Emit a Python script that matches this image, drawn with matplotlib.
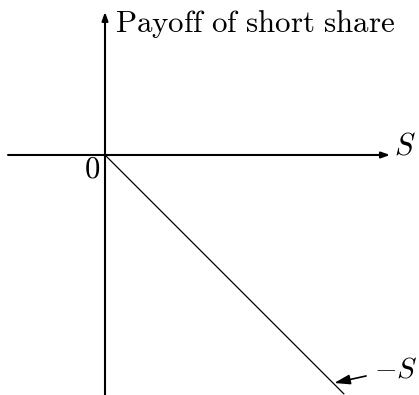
import numpy as np
import matplotlib.pyplot as plt

plt.rcParams['mathtext.fontset'] = 'cm'

# Daten: Auszahlung einer Short-Position
S = np.array([0.0, 9.95])
payoff = -S

x_axis = [-4.04, 11.875]
y_axis = [-10.0, 5.96]

fig = plt.figure(figsize=(4.19, 3.95), dpi=100)
ax = fig.add_axes([0, 0, 1, 1])
ax.set_xlim(-4.375, 13.083)
ax.set_ylim(-10.0, 6.458)
ax.axis('off')

# Achsen mit Pfeilen
ax.annotate('', xy=(x_axis[1], 0), xytext=(x_axis[0], 0),
            arrowprops=dict(arrowstyle='-|>,head_length=0.5,head_width=0.18',
                            lw=1.5, color='black', shrinkA=0, shrinkB=0))
ax.annotate('', xy=(0, y_axis[1]), xytext=(0, y_axis[0]),
            arrowprops=dict(arrowstyle='-|>,head_length=0.5,head_width=0.18',
                            lw=1.5, color='black', shrinkA=0, shrinkB=0))

ax.plot(S, payoff, color='black', lw=0.9, clip_on=False)

ax.text(0.42, 5.125, r'$\mathrm{Payoff\ of\ short\ share}$', fontsize=22.3,
        ha='left', va='baseline')
ax.text(12.05, 0.02, r'$S$', fontsize=22, ha='left', va='baseline')
ax.text(-0.21, -0.92, r'$0$', fontsize=22, ha='right', va='baseline')

ax.annotate(r'$-S$', xy=(9.55, -9.5), xytext=(11.22, -9.29),
            fontsize=21, ha='left', va='baseline',
            arrowprops=dict(arrowstyle='-|>,head_length=0.45,head_width=0.14',
                            lw=1.2, color='black', shrinkA=4, shrinkB=0,
                            relpos=(0, 0.35)))

fig.savefig('out.png', dpi=100)
